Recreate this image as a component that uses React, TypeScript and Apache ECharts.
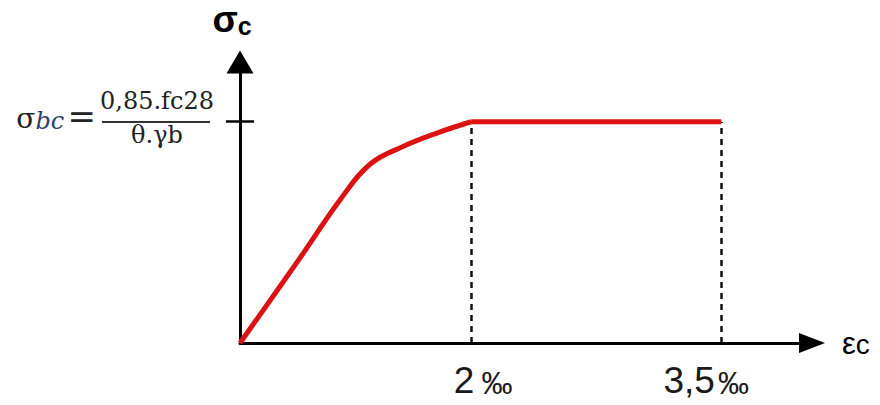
import React, { useEffect, useRef } from "react";
import * as echarts from "echarts";

// Ascending (parabolic) branch: strain in ‰, stress as a fraction of σbc
const branchStrain = [0, 0.5, 0.87, 1.13, 1.42, 1.71, 2];
const branchStress = [0, 0.37, 0.65, 0.81, 0.89, 0.95, 1];
// Plateau branch
const plateauStrain = [2, 3.5];
const plateauStress = [1, 1];
// Axis ticks
const strainTicks = [2, 3.5];
const strainTickLabels = ["2", "3,5"];
const stressTicks = [1];

// The diagram is schematic: the 2‰ → 3.5‰ stretch is drawn wider than to scale.
const BEYOND_PEAK_STRETCH = 1.443;
const axisPos = (e: number) => (e <= 2 ? e : 2 + (e - 2) * BEYOND_PEAK_STRETCH);

const X_MAX = 4.95;
const Y_MAX = 1.27;
const RED = "#dc1212";
const SANS = "'Liberation Sans', Arial, sans-serif";
const SERIF = "'DejaVu Serif', 'Liberation Serif', serif";

export default function App() {
  const ref = useRef<HTMLDivElement>(null);

  useEffect(() => {
    if (!ref.current) return;
    const chart = echarts.init(ref.current, undefined, { renderer: "svg" });

    const yCommon = {
      type: "value" as const,
      min: 0,
      max: Y_MAX,
      position: "left" as const,
      splitLine: { show: false },
    };

    const option: any = {
      animation: false,
      backgroundColor: "#ffffff",
      grid: { left: 240, top: 62, width: 572, height: 281 },
      xAxis: {
        type: "value",
        min: 0,
        max: X_MAX,
        splitLine: { show: false },
        axisTick: { show: false },
        axisLine: {
          show: true,
          onZero: false,
          symbol: ["none", "triangle"],
          symbolSize: [20, 26],
          lineStyle: { color: "#000", width: 3 },
        },
        axisLabel: {
          customValues: strainTicks.map(axisPos),
          margin: 19,
          formatter: (v: number) => {
            const i = strainTicks.findIndex((t) => Math.abs(axisPos(t) - v) < 1e-6);
            if (i < 0) return "";
            return `{n${i}|${strainTickLabels[i]}}{p${i}|‰}`;
          },
          rich: {
            n0: { fontFamily: SANS, fontSize: 37, color: "#1a1a1a", padding: [0, 7, 0, 24], verticalAlign: "bottom" },
            p0: { fontFamily: SANS, fontSize: 31, color: "#1a1a1a", verticalAlign: "bottom" },
            n1: { fontFamily: SANS, fontSize: 37, color: "#1a1a1a", padding: [0, 3, 0, 0], verticalAlign: "bottom" },
            p1: { fontFamily: SANS, fontSize: 31, color: "#1a1a1a", padding: [0, 30, 0, 0], verticalAlign: "bottom" },
          },
        },
        name: "{e|ε}{c|c}",
        nameLocation: "end",
        nameGap: 30,
        nameTextStyle: {
          color: "#000",
          rich: {
            e: { fontFamily: SANS, fontSize: 31, color: "#000", verticalAlign: "bottom" },
            c: { fontFamily: SANS, fontSize: 28, color: "#000", verticalAlign: "bottom" },
          },
        },
      },
      yAxis: [
        {
          ...yCommon,
          axisLine: {
            show: true,
            onZero: false,
            symbol: ["none", "triangle"],
            symbolSize: [27, 23],
            lineStyle: { color: "#000", width: 3 },
          },
          axisTick: {
            show: true,
            customValues: stressTicks,
            length: 14,
            lineStyle: { color: "#000", width: 2.5 },
          },
          axisLabel: {
            customValues: stressTicks,
            margin: 144,
            padding: [0, 0, 12, 0],
            formatter: () => "{s|σ}{b|bc} {e|=}",
            rich: {
              s: { fontFamily: SERIF, fontSize: 28, color: "#222", verticalAlign: "bottom" },
              b: { fontFamily: SERIF, fontStyle: "italic", fontSize: 24, color: "#2c4170", verticalAlign: "bottom" },
              e: { fontFamily: SERIF, fontSize: 34, color: "#222", verticalAlign: "bottom" },
            },
          },
          name: "{s|σ}{c|c}",
          nameLocation: "end",
          nameGap: 24,
          nameTextStyle: {
            color: "#000",
            padding: [0, 16, 0, 0],
            rich: {
              s: { fontFamily: SANS, fontWeight: "bold", fontSize: 37, color: "#000", verticalAlign: "bottom" },
              c: { fontFamily: SANS, fontWeight: "bold", fontSize: 25, color: "#000", verticalAlign: "bottom" },
            },
          },
        },
        {
          ...yCommon,
          axisLine: { show: false },
          axisTick: {
            show: true,
            inside: true,
            customValues: stressTicks,
            length: 14,
            lineStyle: { color: "#000", width: 2.5 },
          },
          axisLabel: { show: false },
        },
        {
          ...yCommon,
          offset: 30,
          axisLine: { show: false },
          axisTick: {
            show: true,
            customValues: stressTicks,
            length: 108,
            lineStyle: { color: "#333", width: 1.8 },
          },
          axisLabel: {
            customValues: stressTicks,
            margin: 53,
            align: "center",
            padding: [0, 0, 8, 0],
            formatter: () => "{n|0,85.fc28}\n{d|θ.γb}",
            rich: {
              n: { fontFamily: SERIF, fontSize: 24, lineHeight: 34, color: "#222", align: "center" },
              d: { fontFamily: SERIF, fontSize: 24, lineHeight: 34, color: "#222", align: "center" },
            },
          },
        },
      ],
      series: [
        {
          type: "line",
          data: branchStrain.map((e, i) => [axisPos(e), branchStress[i]]),
          smooth: 0.4,
          symbol: "none",
          lineStyle: { color: RED, width: 5 },
          z: 3,
        },
        {
          type: "line",
          data: plateauStrain.map((e, i) => [axisPos(e), plateauStress[i]]),
          symbol: "none",
          lineStyle: { color: RED, width: 5 },
          z: 3,
          markLine: {
            silent: true,
            symbol: ["none", "none"],
            label: { show: false },
            z: 1,
            lineStyle: { color: "#111", width: 2.5, type: [6, 5] },
            data: strainTicks.map((t) => [
              { coord: [axisPos(t), 0] },
              { coord: [axisPos(t), plateauStress[0]] },
            ]),
          },
        },
      ],
    };

    chart.setOption(option);
    return () => chart.dispose();
  }, []);

  return (
    <div
      ref={ref}
      style={{ position: "fixed", left: 0, top: 0, width: 880, height: 405, background: "#fff" }}
    />
  );
}
